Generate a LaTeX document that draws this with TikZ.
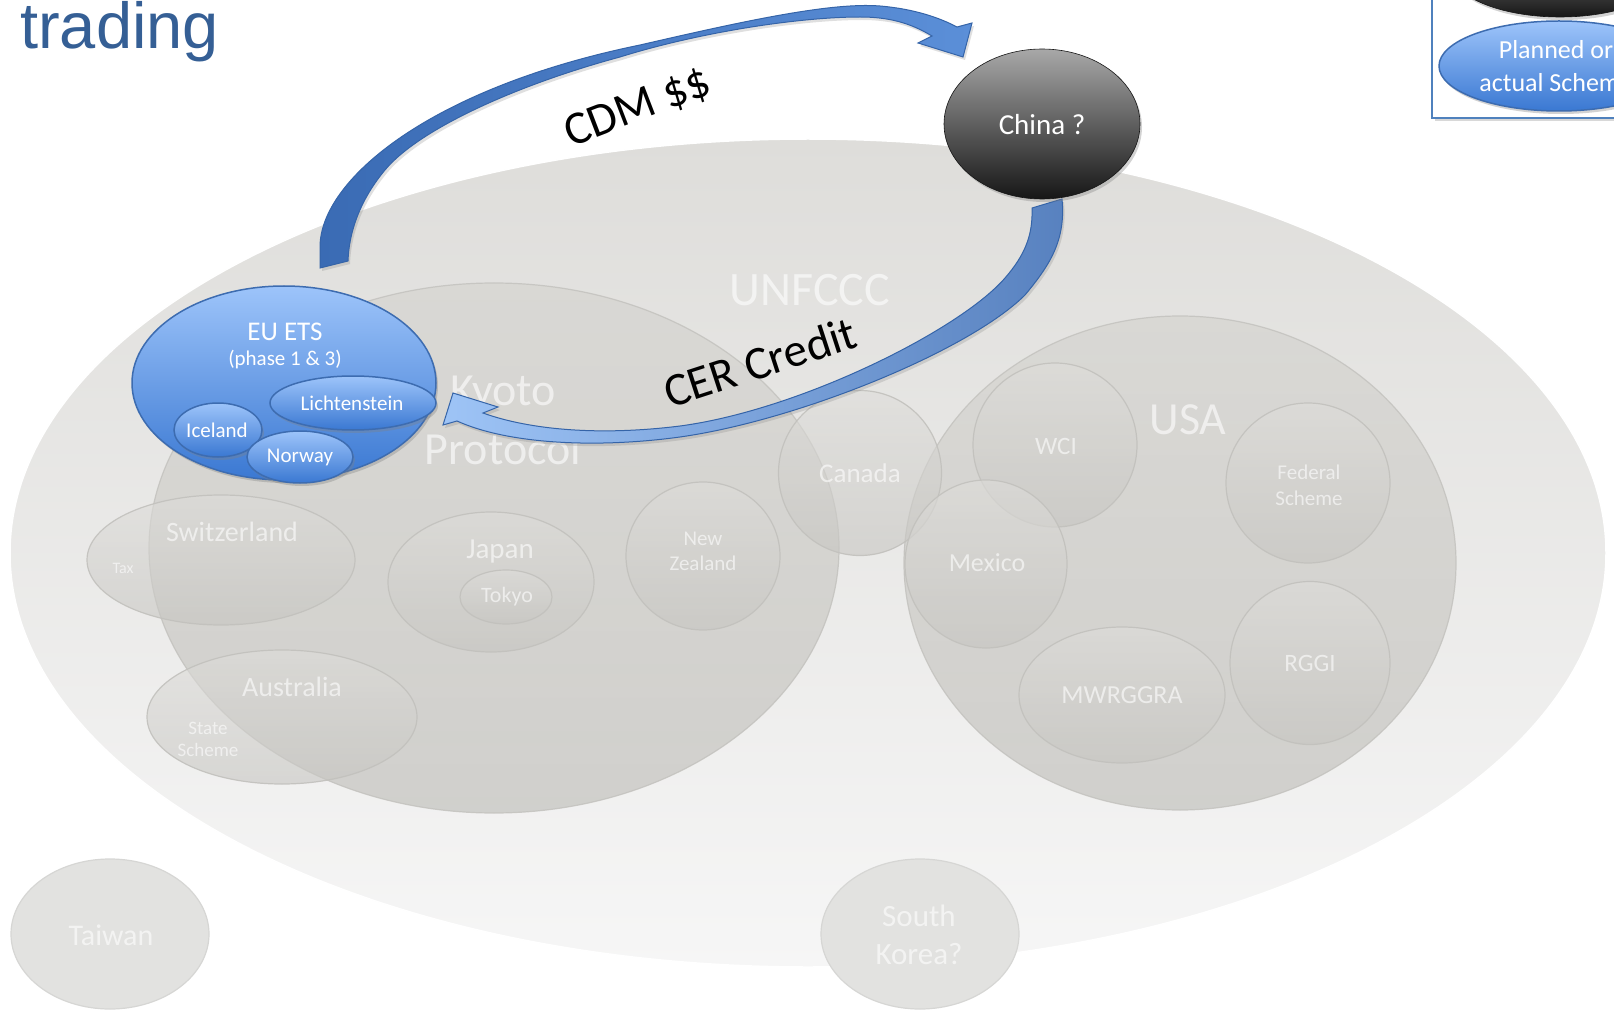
\documentclass[tikz,border=0pt]{standalone}
\usepackage{fontspec}
\setmainfont{Carlito}
\newfontfamily\arialfont{Liberation Sans}
\usetikzlibrary{shapes.geometric,shadows}
\definecolor{titleblue}{HTML}{355F95}
\definecolor{unfTop}{HTML}{DEDDDA}
\definecolor{unfBot}{HTML}{F6F6F6}
\definecolor{regTop}{HTML}{D6D5D1}
\definecolor{regBot}{HTML}{C6C5C1}
\definecolor{regLine}{HTML}{C2C1BD}
\definecolor{subTop}{HTML}{DEDDDA}
\definecolor{subBot}{HTML}{C6C5C1}
\definecolor{outFill}{HTML}{E2E2E0}
\definecolor{outLine}{HTML}{D6D6D4}
\definecolor{bluTop}{HTML}{9DC4FA}
\definecolor{bluBot}{HTML}{3A78D2}
\definecolor{bluLine}{HTML}{3D6CB0}
\definecolor{arrDark}{HTML}{3A6BB4}
\definecolor{arrMid}{HTML}{5B8FD8}
\definecolor{arrLight}{HTML}{9EC4F6}
\definecolor{arrLine}{HTML}{3564A8}
\definecolor{chTop}{HTML}{A8A8A8}
\definecolor{chMid}{HTML}{555555}
\definecolor{chBot}{HTML}{161616}
\definecolor{legLine}{HTML}{4F81BD}
\newcommand{\myfs}[2]{\fontsize{#1}{#2}\selectfont}
\tikzset{
  ell/.style={ellipse, inner sep=0pt, outer sep=0pt},
  unf/.style={ell, top color=unfTop, bottom color=unfBot, draw=white, line width=1.5pt},
  region/.style={ell, top color=regTop, bottom color=regBot, fill opacity=0.75, draw=regLine, draw opacity=0.8, line width=1.2pt},
  subreg/.style={ell, top color=subTop, bottom color=subBot, fill opacity=0.6, draw=regLine, draw opacity=0.9, line width=1.2pt},
  outreg/.style={ell, fill=outFill, draw=outLine, line width=1.2pt},
  blu/.style={ell, top color=bluTop, bottom color=bluBot, draw=bluLine, line width=1.5pt},
  blushadow/.style={blu, drop shadow={opacity=0.35, shadow xshift=2pt, shadow yshift=-3pt}},
  dark/.style={ell, top color=chTop, middle color=chMid, bottom color=chBot, draw=chBot, line width=0.6pt,
     drop shadow={opacity=0.35, shadow xshift=2pt, shadow yshift=-3pt}},
  glbl/.style={inner sep=0pt, align=center, text=white, text opacity=0.6},
  wlbl/.style={inner sep=0pt, align=center, text=white},
  arrlbl/.style={inner sep=0pt, text=black, font=\myfs{47}{56}},
  cdmarrow/.style={left color=arrDark, right color=arrMid, draw=arrLine, line width=1pt,
     drop shadow={opacity=0.25, shadow xshift=2pt, shadow yshift=-3pt}},
  cerarrow/.style={left color=arrLight, right color=arrDark!85!white, draw=arrLine, line width=1pt,
     drop shadow={opacity=0.25, shadow xshift=2pt, shadow yshift=-3pt}},
  legbox/.style={draw=legLine, line width=2pt, fill=white,
     drop shadow={opacity=0.3, shadow xshift=3pt, shadow yshift=-3pt}},
}
\begin{document}
\begin{tikzpicture}[x=1pt,y=-1pt]
\useasboundingbox (0,0) rectangle (1614,1016);
\clip (0,0) rectangle (1614,1016);
\fill[white] (0,0) rectangle (1614,1016);

% title
\node[anchor=base west, inner sep=0pt, text=titleblue, font=\arialfont\myfs{65}{70}] (title) at (20,49) {trading};

% UNFCCC
\node[unf, minimum width=1596pt, minimum height=828pt] (unfccc) at (808,553) {};

% main regions
\node[region, minimum width=690pt, minimum height=530pt] (kyoto) at (494,548) {};
\node[region, minimum width=552pt, minimum height=494pt] (usa) at (1180,563) {};

% sub regions
\node[subreg, minimum width=268pt, minimum height=130pt] (swiss) at (221,560) {};
\node[subreg, minimum width=270pt, minimum height=134pt] (austr) at (282,717) {};
\node[subreg, minimum width=206pt, minimum height=140pt] (japan) at (491,582) {};
\node[subreg, minimum width=92pt, minimum height=54pt] (tokyo) at (506,597) {};
\node[subreg, minimum width=154pt, minimum height=148pt] (nz) at (703,556) {};
\node[subreg, minimum width=163pt, minimum height=165pt] (canada) at (860,473) {};
\node[subreg, minimum width=164pt, minimum height=164pt] (wci) at (1055,445) {};
\node[subreg, minimum width=162pt, minimum height=168pt] (mexico) at (986,564) {};
\node[subreg, minimum width=164pt, minimum height=160pt] (federal) at (1308,483) {};
\node[subreg, minimum width=160pt, minimum height=163pt] (rggi) at (1310,663) {};
\node[subreg, minimum width=206pt, minimum height=136pt] (mwrggra) at (1122,695) {};

% outside
\node[outreg, minimum width=198pt, minimum height=150pt] (taiwan) at (110,934) {};
\node[outreg, minimum width=198pt, minimum height=150pt] (skorea) at (920,934) {};

% grey labels
\node[glbl, font=\myfs{48}{56}] (unfcccT) at (810,290) {UNFCCC};
\node[glbl, font=\myfs{46}{59}] (kyotoT) at (503,420) {Kyoto\\Protocol};
\node[glbl, font=\myfs{46}{56}] (usaT) at (1188,420) {USA};
\node[glbl, font=\myfs{27}{32}] (canadaT) at (860,473) {Canada};
\node[glbl, font=\myfs{25}{30}] (wciT) at (1056,446) {WCI};
\node[glbl, font=\myfs{26}{30}] (mexicoT) at (987,563) {Mexico};
\node[glbl, font=\myfs{21}{26}] (federalT) at (1309,485) {Federal\\Scheme};
\node[glbl, font=\myfs{25}{30}] (rggiT) at (1310,663) {RGGI};
\node[glbl, font=\myfs{26}{30}] (mwrggraT) at (1122,695) {MWRGGRA};
\node[glbl, font=\myfs{21}{25}] (nzT) at (703,551) {New\\Zealand};
\node[glbl, font=\myfs{29}{34}] (japanT) at (500,552) {Japan};
\node[glbl, font=\myfs{22}{26}] (tokyoT) at (507,597) {Tokyo};
\node[glbl, font=\myfs{28}{32}] (swissT) at (232,532) {Switzerland};
\node[glbl, font=\myfs{16}{20}] (taxT) at (123,568) {Tax};
\node[glbl, font=\myfs{28}{32}] (austrT) at (292,687) {Australia};
\node[glbl, font=\myfs{19}{22}] (stateT) at (208,739) {State\\Scheme};
\node[glbl, font=\myfs{30}{36}] (taiwanT) at (111,935) {Taiwan};
\node[glbl, font=\myfs{31}{38}] (skoreaT) at (919,935) {South\\Korea?};

% EU ETS group
\node[blushadow, minimum width=304pt, minimum height=194pt] (euets) at (284,383) {};
\node[wlbl, font=\myfs{27}{30}] (euetsT) at (285,332) {EU ETS};
\node[wlbl, font=\myfs{21}{24}] (phaseT) at (285,360) {(phase 1 \& 3)};
\node[blushadow, minimum width=88pt, minimum height=54pt] (iceland) at (218,430) {};
\node[blushadow, minimum width=106pt, minimum height=52pt] (norway) at (300,457) {};
\node[blushadow, minimum width=166pt, minimum height=54pt] (licht) at (353,403) {};
\node[wlbl, font=\myfs{21}{24}] (icelandT) at (217,430) {Iceland};
\node[wlbl, font=\myfs{21}{24}] (norwayT) at (300,457) {Norway};
\node[wlbl, font=\myfs{21}{24}] (lichtT) at (352,403) {Lichtenstein};

% CDM arrow (EU ETS -> China)
\path[cdmarrow] (320,268) -- (320,247)
  .. controls (320,180) and (430,88) .. (640,45)
  .. controls (740,22) and (830,2) .. (880,6)
  .. controls (915,9) and (940,18) .. (957,27)
  -- (972,23) -- (963,57) -- (918,43) -- (932,36)
  .. controls (915,26) and (895,17) .. (860,17)
  .. controls (800,17) and (700,32) .. (620,57)
  .. controls (520,84) and (420,128) .. (385,170)
  .. controls (360,200) and (349,232) .. (348,261)
  -- cycle;

% CER arrow (China -> EU ETS)
\path[cerarrow] (443,425) -- (453,393) -- (498,407) -- (483,413)
  .. controls (530,430) and (600,436) .. (680,426)
  .. controls (800,410) and (960,330) .. (1005,278)
  .. controls (1025,255) and (1033,235) .. (1032,208)
  -- (1062,199)
  .. controls (1066,240) and (1050,265) .. (1025,295)
  .. controls (970,350) and (800,420) .. (680,437)
  .. controls (600,448) and (510,445) .. (457,421)
  -- cycle;

% arrow labels
\node[arrlbl, rotate=21] (cdmT) at (638,108) {CDM \$\$};
\node[arrlbl, rotate=18] (cerT) at (760,362) {CER Credit};

% China
\node[dark, minimum width=196pt, minimum height=150pt] (china) at (1042,124) {};
\node[wlbl, font=\myfs{29}{34}] (chinaT) at (1042,125) {China ?};

% legend
\node[legbox, minimum width=200pt, minimum height=135pt, inner sep=0pt, anchor=south west] (legend) at (1431,119) {};
\node[dark, minimum width=220pt, minimum height=94pt] (legdark) at (1560,-30) {};
\node[blushadow, minimum width=240pt, minimum height=90pt] (legblue) at (1559,66) {};
\node[wlbl, font=\myfs{26}{33}] (legT) at (1556,66) {Planned or\\actual Scheme};
\end{tikzpicture}
\end{document}
